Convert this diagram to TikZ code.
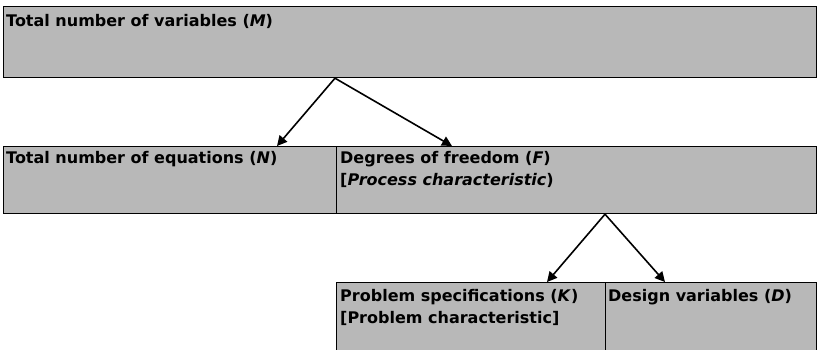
\documentclass[tikz,border=0pt]{standalone}
\usepackage{fontspec}
\setmainfont{DejaVu Sans}
\usetikzlibrary{arrows.meta}
\tikzset{
  box/.style={draw=black, line width=1.2pt, fill=boxgray, inner sep=0pt, anchor=north west},
  lbl/.style={anchor=base west, inner sep=0pt, font=\bfseries\fontsize{16}{19}\selectfont},
  arr/.style={draw=black, line width=1.6pt, -{Triangle[length=10pt,width=10pt]}},
}
\definecolor{boxgray}{gray}{0.72}
\begin{document}
\begin{tikzpicture}[x=1pt,y=-1pt]
\useasboundingbox (0,0) rectangle (819,350);
% top level
\node[box, minimum width=813pt, minimum height=71pt] (top) at (3,6) {};
\node[lbl] (topt) at (6,27) {Total number of variables (\textit{M})};
% second level
\node[box, minimum width=333pt, minimum height=67pt] (eq) at (3,146) {};
\node[box, minimum width=480pt, minimum height=67pt] (dof) at (336,146) {};
\node[lbl] (eqt) at (6,163) {Total number of equations (\textit{N})};
\node[lbl] (doft) at (340,163) {Degrees of freedom (\textit{F})};
\node[lbl] (dofc) at (340,185) {[\textit{Process characteristic})};
% third level
\node[box, minimum width=269pt, minimum height=70pt] (spec) at (336,282) {};
\node[box, minimum width=211pt, minimum height=70pt] (des) at (605,282) {};
\node[lbl] (spect) at (340,301) {Problem specifications (\textit{K})};
\node[lbl] (specc) at (340,323) {[Problem characteristic]};
\node[lbl] (dest) at (608,301) {Design variables (\textit{D})};
% connectors
\coordinate (a1) at (top.south west -| 335,0);
\coordinate (a2) at (dof.south west -| 605,0);
\draw[arr] (a1) -- (eq.north west -| 277,0);
\draw[arr] (a1) -- (dof.north west -| 452,0);
\draw[arr] (a2) -- (spec.north west -| 547,0);
\draw[arr] (a2) -- (des.north west -| 665,0);
\end{tikzpicture}
\end{document}
